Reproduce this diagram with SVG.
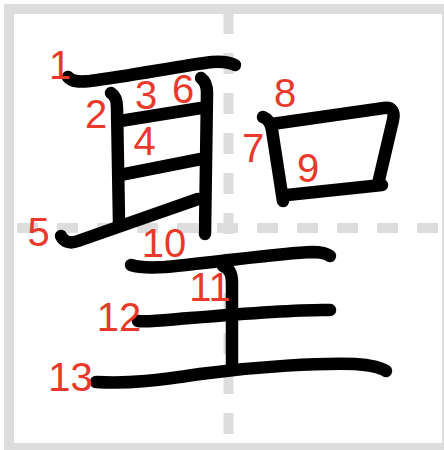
<svg xmlns="http://www.w3.org/2000/svg" width="444" height="450" viewBox="0 0 444 450">
<style>
.frame{fill:none;stroke:#dddddd;stroke-width:10}
.guide{fill:none;stroke:#dddddd;stroke-width:10;stroke-dasharray:21 19}
.s{fill:none;stroke:#000000;stroke-width:12.5;stroke-linecap:round;stroke-linejoin:round}
.n{font-family:"Liberation Sans",Arial,sans-serif;font-size:40px;fill:#e8392a;text-anchor:middle}
</style>
<rect x="0" y="0" width="444" height="450" fill="#ffffff"/>
<rect class="frame" x="9" y="9" width="438" height="439"/>
<line class="guide" x1="17" y1="228" x2="444" y2="228"/>
<line class="guide" x1="228.5" y1="13" x2="228.5" y2="444"/>
<g id="strokes">
<path id="s1" class="s" d="M68,77 C72,82 80,82 90,81 C130,76 180,66 212,62 C222,61 229,62 235,65"/>
<path id="s2" class="s" d="M111,93 C116,96 117,101 117,108 L119,222"/>
<path id="s3" class="s" d="M120,121 L201,108"/>
<path id="s4" class="s" d="M120,175 L201,159"/>
<path id="s5" class="s" d="M61,236 C64,242 70,244 78,241 C110,230 160,212 198,199"/>
<path id="s6" class="s" d="M201,78 C205,81 207,86 207,93 L205,234"/>
<path id="s7" class="s" d="M263,117 C268,119 271,124 272,130 L283,201"/>
<path id="s8" class="s" d="M272,124 L384,108 C392,107 395,112 393,120 L378,184"/>
<path id="s9" class="s" d="M287,195 L382,185"/>
<path id="s10" class="s" d="M131,265 C140,268 150,268 165,267 C220,262 280,253 312,252 C320,252 326,253 330,256"/>
<path id="s11" class="s" d="M223,266 C229,268 232,274 232,283 L232,368"/>
<path id="s12" class="s" d="M138,321 C150,322 165,320 190,318 C250,313 300,309 330,310"/>
<path id="s13" class="s" d="M96,382 C130,384 160,380 200,374 C260,366 320,363 355,364 C370,365 380,367 386,371"/>
</g>
<g id="numbers">
<text class="n" x="60" y="79">1</text>
<text class="n" x="96" y="128">2</text>
<text class="n" x="146" y="109">3</text>
<text class="n" x="144.5" y="155">4</text>
<text class="n" x="38.5" y="246">5</text>
<text class="n" x="183" y="103">6</text>
<text class="n" x="253" y="162">7</text>
<text class="n" x="285" y="107">8</text>
<text class="n" x="308" y="182">9</text>
<text class="n" x="164" y="257">10</text>
<text class="n" x="210" y="301">11</text>
<text class="n" x="119" y="331">12</text>
<text class="n" x="70.5" y="391">13</text>
</g>
</svg>
